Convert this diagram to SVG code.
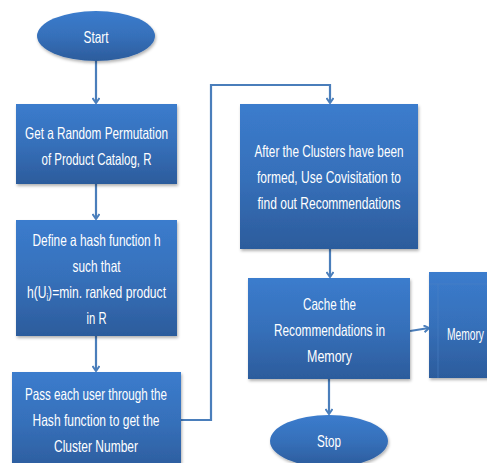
<svg xmlns="http://www.w3.org/2000/svg" width="487" height="463" viewBox="0 0 487 463">
<style>
.box{fill:url(#g);filter:url(#sh)}
.t{font-family:"Liberation Sans","DejaVu Sans",sans-serif;font-size:16.5px;fill:#ffffff;text-anchor:middle}
.c{fill:none;stroke:#4a7ebb;stroke-width:2.2;marker-end:url(#ah)}
</style>
<defs>
<linearGradient id="g" x1="0" y1="0" x2="0" y2="1">
<stop offset="0" stop-color="#3b7ccd"/>
<stop offset="0.5" stop-color="#3670ba"/>
<stop offset="1" stop-color="#2c5c9c"/>
</linearGradient>
<filter id="sh" x="-10%" y="-10%" width="120%" height="120%">
<feDropShadow dx="1" dy="2" stdDeviation="1.5" flood-color="#000000" flood-opacity="0.3"/>
</filter>
<marker id="ah" markerWidth="8" markerHeight="8" refX="6" refY="4" orient="auto" markerUnits="userSpaceOnUse">
<path d="M1,0.5 L6,4 L1,7.5" fill="none" stroke="#4a7ebb" stroke-width="2"/>
</marker>
</defs>
<g id="connectors">
<line class="c" x1="96" y1="61" x2="96" y2="103"/>
<line class="c" x1="96" y1="184" x2="96" y2="219"/>
<line class="c" x1="96" y1="336" x2="96" y2="371"/>
<polyline class="c" points="181,420 211,420 211,85 330,85 330,103"/>
<line class="c" x1="330" y1="249" x2="330" y2="277"/>
<line class="c" x1="410" y1="331" x2="429" y2="328"/>
<line class="c" x1="329" y1="379" x2="329" y2="414"/>
</g>
<g id="start">
<ellipse class="box" cx="96" cy="36" rx="59" ry="25"/>
<text class="t" x="96" y="43" textLength="25" lengthAdjust="spacingAndGlyphs">Start</text>
</g>
<g id="permutation">
<rect class="box" x="16" y="104" width="161" height="80"/>
<text class="t" x="96.5" y="139" textLength="143" lengthAdjust="spacingAndGlyphs">Get a Random Permutation</text>
<text class="t" x="96.5" y="165" textLength="110" lengthAdjust="spacingAndGlyphs">of Product Catalog, R</text>
</g>
<g id="hash">
<rect class="box" x="16" y="220" width="161" height="116"/>
<text class="t" x="96.5" y="246" textLength="128" lengthAdjust="spacingAndGlyphs">Define a hash function h</text>
<text class="t" x="96.5" y="272" textLength="48" lengthAdjust="spacingAndGlyphs">such that</text>
<text class="t" x="96.5" y="298" textLength="139" lengthAdjust="spacingAndGlyphs">h(U<tspan font-size="10" dy="3">i</tspan><tspan dy="-3">)=min. ranked product</tspan></text>
<text class="t" x="96.5" y="324" textLength="20" lengthAdjust="spacingAndGlyphs">in R</text>
</g>
<g id="pass">
<rect class="box" x="12" y="372" width="169" height="100"/>
<text class="t" x="96" y="400" textLength="142" lengthAdjust="spacingAndGlyphs">Pass each user through the</text>
<text class="t" x="96" y="426" textLength="127" lengthAdjust="spacingAndGlyphs">Hash function to get the</text>
<text class="t" x="96" y="452" textLength="84" lengthAdjust="spacingAndGlyphs">Cluster Number</text>
</g>
<g id="covisitation">
<rect class="box" x="240" y="104" width="178" height="145"/>
<text class="t" x="329" y="157" textLength="149" lengthAdjust="spacingAndGlyphs">After the Clusters have been</text>
<text class="t" x="329" y="183" textLength="144" lengthAdjust="spacingAndGlyphs">formed, Use Covisitation to</text>
<text class="t" x="329" y="209" textLength="143" lengthAdjust="spacingAndGlyphs">find out Recommendations</text>
</g>
<g id="cache">
<rect class="box" x="248" y="278" width="162" height="101"/>
<text class="t" x="329.5" y="310" textLength="53" lengthAdjust="spacingAndGlyphs">Cache the</text>
<text class="t" x="329.5" y="336" textLength="111" lengthAdjust="spacingAndGlyphs">Recommendations in</text>
<text class="t" x="329.5" y="362" textLength="45" lengthAdjust="spacingAndGlyphs">Memory</text>
</g>
<g id="memory">
<rect class="box" x="429" y="272" width="70" height="106"/>
<line x1="438" y1="284" x2="438" y2="378" stroke="#4a80c4" stroke-width="1" opacity="0.6"/>
<line x1="429" y1="284" x2="487" y2="284" stroke="#4a80c4" stroke-width="1" opacity="0.6"/>
<text class="t" x="447" y="340" textLength="37" lengthAdjust="spacingAndGlyphs" style="text-anchor:start">Memory</text>
</g>
<g id="stop">
<ellipse class="box" cx="329" cy="441" rx="59" ry="26"/>
<text class="t" x="329" y="447" textLength="24" lengthAdjust="spacingAndGlyphs">Stop</text>
</g>
</svg>
